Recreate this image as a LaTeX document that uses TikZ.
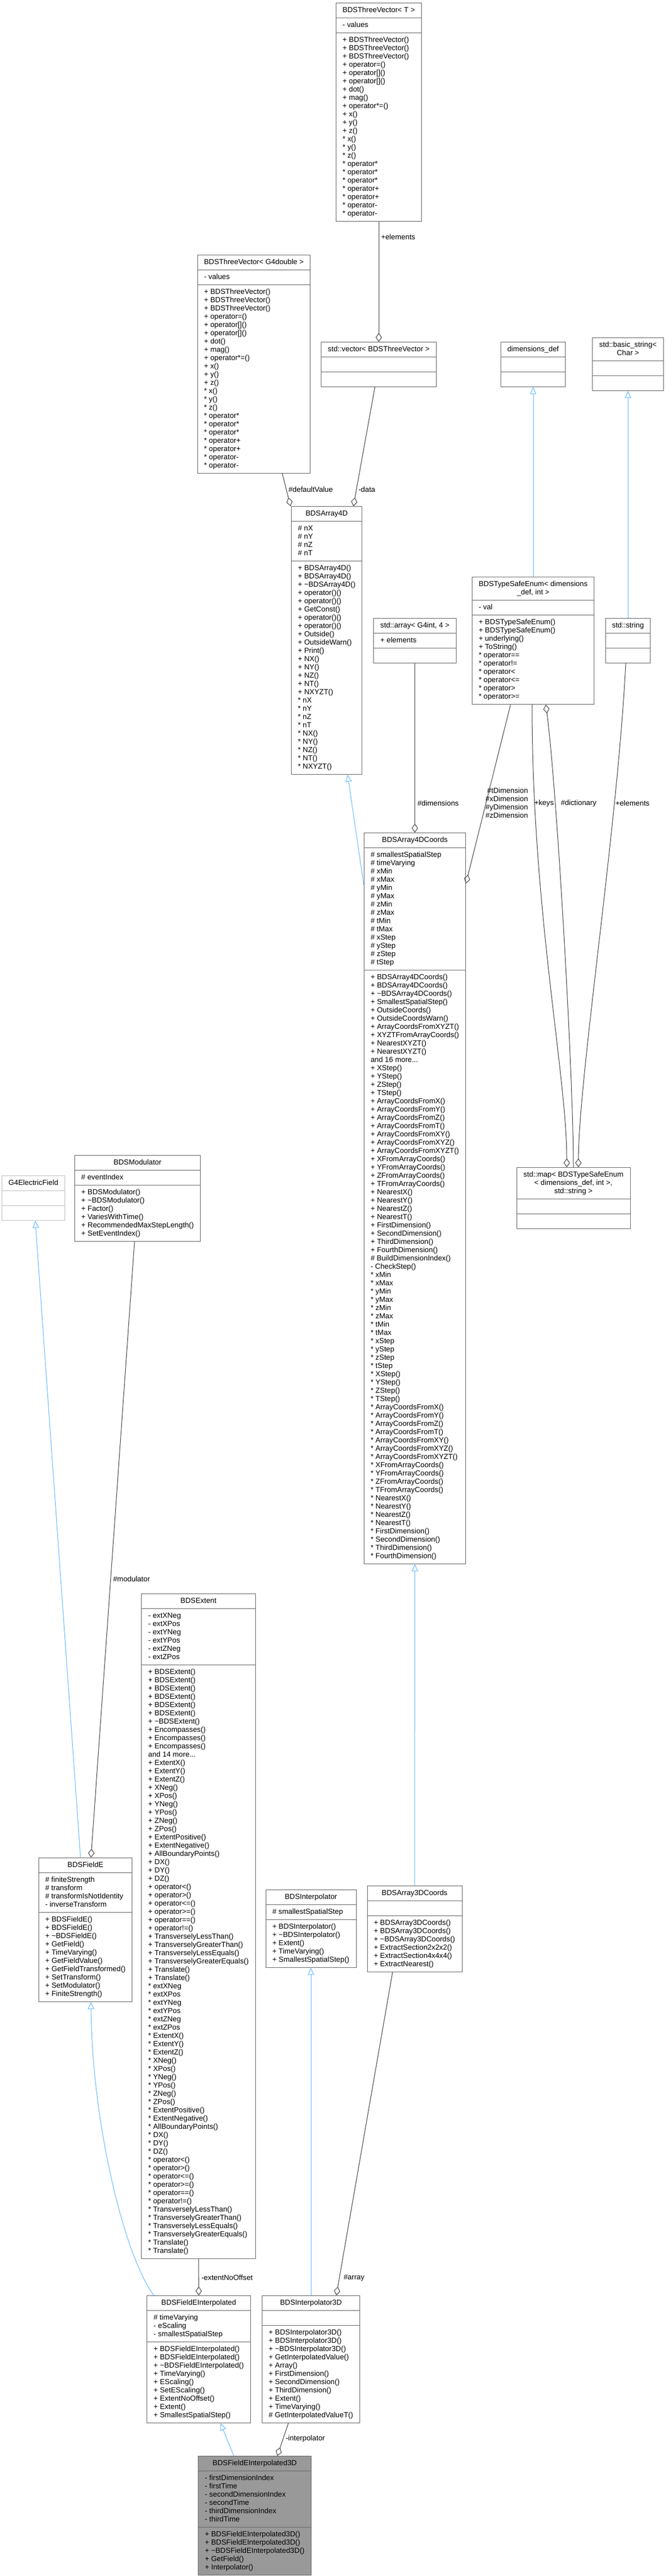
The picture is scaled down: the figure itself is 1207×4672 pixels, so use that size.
\documentclass[tikz,border=0pt]{standalone}
\usepackage{fontspec}
\setmainfont{Liberation Sans}
\usepackage{tikz}
\usetikzlibrary{shapes.multipart}
\usetikzlibrary{arrows.meta}
\definecolor{boxgray}{HTML}{666666}
\definecolor{edgegray}{HTML}{404040}
\definecolor{extgray}{HTML}{BFBFBF}
\definecolor{inhblue}{HTML}{63B8FF}
\definecolor{focusfill}{HTML}{999999}
\newcommand{\clshead}[1]{\begin{tabular}{@{}c@{}}#1\end{tabular}}
\newcommand{\members}[1]{\begin{tabular}{@{}l@{}}#1\end{tabular}}
\tikzset{
    cls/.style={rectangle split, rectangle split parts=3,
        rectangle split part align={center,left,left},
        draw=boxgray, line width=0.75pt, fill=white, anchor=north,
        inner xsep=9pt, inner ysep=4.125pt,
        font=\fontsize{10pt}{11.25pt}\selectfont},
    clsw/.style={minimum width=#1*0.75pt},
    aggr/.style={draw=edgegray, line width=0.75pt, -{Diamond[open,length=12pt,width=8.5pt]}},
    inh/.style={draw=inhblue, line width=0.75pt, -{Triangle[open,length=9.5pt,width=8.5pt]}},
    lbl/.style={inner sep=0pt, anchor=west, font=\fontsize{10pt}{11.25pt}\selectfont}
}

\begin{document}
\begin{tikzpicture}[x=0.75pt,y=-0.75pt]
    \path[use as bounding box, fill=white] (0,0) rectangle (1207,4672);

    \node[cls, clsw=152] (TVT) at (687,5) {\clshead{BDSThreeVector< T >}
        \nodepart{two}\members{- values}
        \nodepart{three}\members{+ BDSThreeVector()\\+ BDSThreeVector()\\+ BDSThreeVector()\\+ operator=()\\+ operator[]()\\+ operator[]()\\+ dot()\\+ mag()\\+ operator*=()\\+ x()\\+ y()\\+ z()\\{*} x()\\{*} y()\\{*} z()\\{*} operator*\\{*} operator*\\{*} operator*\\{*} operator+\\{*} operator+\\{*} operator-\\{*} operator-}};
    \node[cls, clsw=199] (TVG) at (460.5,462) {\clshead{BDSThreeVector< G4double >}
        \nodepart{two}\members{- values}
        \nodepart{three}\members{+ BDSThreeVector()\\+ BDSThreeVector()\\+ BDSThreeVector()\\+ operator=()\\+ operator[]()\\+ operator[]()\\+ dot()\\+ mag()\\+ operator*=()\\+ x()\\+ y()\\+ z()\\{*} x()\\{*} y()\\{*} z()\\{*} operator*\\{*} operator*\\{*} operator*\\{*} operator+\\{*} operator+\\{*} operator-\\{*} operator-}};
    \node[cls, clsw=206] (VEC) at (687,620) {\clshead{std::vector< BDSThreeVector >}
        \nodepart{two}\strut \nodepart{three}\strut};
    \node[cls, clsw=112] (DIMDEF) at (967,620) {\clshead{dimensions\_def}
        \nodepart{two}\strut \nodepart{three}\strut};
    \node[cls, clsw=124] (BSTR) at (1139,612) {\clshead{std::basic\_string<\\Char >}
        \nodepart{two}\strut \nodepart{three}\strut};

    \node[cls, clsw=125] (ARRAY4D) at (592.5,918) {\clshead{BDSArray4D}
        \nodepart{two}\members{\# nX\\\# nY\\\# nZ\\\# nT}
        \nodepart{three}\members{+ BDSArray4D()\\+ BDSArray4D()\\+ \textasciitilde BDSArray4D()\\+ operator()()\\+ operator()()\\+ GetConst()\\+ operator()()\\+ operator()()\\+ Outside()\\+ OutsideWarn()\\+ Print()\\+ NX()\\+ NY()\\+ NZ()\\+ NT()\\+ NXYZT()\\{*} nX\\{*} nY\\{*} nZ\\{*} nT\\{*} NX()\\{*} NY()\\{*} NZ()\\{*} NT()\\{*} NXYZT()}};
    \node[cls, clsw=147] (STDARRAY) at (752.5,1121) {\clshead{std::array< G4int, 4 >}
        \nodepart{two}\members{+ elements}
        \nodepart{three}\strut};
    \node[cls, clsw=216] (TSENUM) at (967,1046) {\clshead{BDSTypeSafeEnum< dimensions\\\_def, int >}
        \nodepart{two}\members{- val}
        \nodepart{three}\members{+ BDSTypeSafeEnum()\\+ BDSTypeSafeEnum()\\+ underlying()\\+ ToString()\\{*} operator==\\{*} operator!=\\{*} operator<\\{*} operator<=\\{*} operator>\\{*} operator>=}};
    \node[cls, clsw=80] (STDSTRING) at (1139,1121) {\clshead{std::string}
        \nodepart{two}\strut \nodepart{three}\strut};

    \node[cls, clsw=179] (COORDS4D) at (752.5,1510) {\clshead{BDSArray4DCoords}
        \nodepart{two}\members{\# smallestSpatialStep\\\# timeVarying\\\# xMin\\\# xMax\\\# yMin\\\# yMax\\\# zMin\\\# zMax\\\# tMin\\\# tMax\\\# xStep\\\# yStep\\\# zStep\\\# tStep}
        \nodepart{three}\members{+ BDSArray4DCoords()\\+ BDSArray4DCoords()\\+ \textasciitilde BDSArray4DCoords()\\+ SmallestSpatialStep()\\+ OutsideCoords()\\+ OutsideCoordsWarn()\\+ ArrayCoordsFromXYZT()\\+ XYZTFromArrayCoords()\\+ NearestXYZT()\\+ NearestXYZT()\\and 16 more...\\+ XStep()\\+ YStep()\\+ ZStep()\\+ TStep()\\+ ArrayCoordsFromX()\\+ ArrayCoordsFromY()\\+ ArrayCoordsFromZ()\\+ ArrayCoordsFromT()\\+ ArrayCoordsFromXY()\\+ ArrayCoordsFromXYZ()\\+ ArrayCoordsFromXYZT()\\+ XFromArrayCoords()\\+ YFromArrayCoords()\\+ ZFromArrayCoords()\\+ TFromArrayCoords()\\+ NearestX()\\+ NearestY()\\+ NearestZ()\\+ NearestT()\\+ FirstDimension()\\+ SecondDimension()\\+ ThirdDimension()\\+ FourthDimension()\\\# BuildDimensionIndex()\\- CheckStep()\\{*} xMin\\{*} xMax\\{*} yMin\\{*} yMax\\{*} zMin\\{*} zMax\\{*} tMin\\{*} tMax\\{*} xStep\\{*} yStep\\{*} zStep\\{*} tStep\\{*} XStep()\\{*} YStep()\\{*} ZStep()\\{*} TStep()\\{*} ArrayCoordsFromX()\\{*} ArrayCoordsFromY()\\{*} ArrayCoordsFromZ()\\{*} ArrayCoordsFromT()\\{*} ArrayCoordsFromXY()\\{*} ArrayCoordsFromXYZ()\\{*} ArrayCoordsFromXYZT()\\{*} XFromArrayCoords()\\{*} YFromArrayCoords()\\{*} ZFromArrayCoords()\\{*} TFromArrayCoords()\\{*} NearestX()\\{*} NearestY()\\{*} NearestZ()\\{*} NearestT()\\{*} FirstDimension()\\{*} SecondDimension()\\{*} ThirdDimension()\\{*} FourthDimension()}};
    \node[cls, clsw=206] (STDMAP) at (1040,2117) {\clshead{std::map< BDSTypeSafeEnum\\< dimensions\_def, int >,\\ std::string >}
        \nodepart{two}\strut \nodepart{three}\strut};
    \node[cls, clsw=111, draw=extgray] (G4EFIELD) at (60.5,2132) {\clshead{G4ElectricField}
        \nodepart{two}\strut \nodepart{three}\strut};
    \node[cls, clsw=221] (MODULATOR) at (249.5,2095) {\clshead{BDSModulator}
        \nodepart{two}\members{\# eventIndex}
        \nodepart{three}\members{+ BDSModulator()\\+ \textasciitilde BDSModulator()\\+ Factor()\\+ VariesWithTime()\\+ RecommendedMaxStepLength()\\+ SetEventIndex()}};

    \node[cls, clsw=200] (EXTENT) at (360,2890) {\clshead{BDSExtent}
        \nodepart{two}\members{- extXNeg\\- extXPos\\- extYNeg\\- extYPos\\- extZNeg\\- extZPos}
        \nodepart{three}\members{+ BDSExtent()\\+ BDSExtent()\\+ BDSExtent()\\+ BDSExtent()\\+ BDSExtent()\\+ BDSExtent()\\+ \textasciitilde BDSExtent()\\+ Encompasses()\\+ Encompasses()\\+ Encompasses()\\and 14 more...\\+ ExtentX()\\+ ExtentY()\\+ ExtentZ()\\+ XNeg()\\+ XPos()\\+ YNeg()\\+ YPos()\\+ ZNeg()\\+ ZPos()\\+ ExtentPositive()\\+ ExtentNegative()\\+ AllBoundaryPoints()\\+ DX()\\+ DY()\\+ DZ()\\+ operator<()\\+ operator>()\\+ operator<=()\\+ operator>=()\\+ operator==()\\+ operator!=()\\+ TransverselyLessThan()\\+ TransverselyGreaterThan()\\+ TransverselyLessEquals()\\+ TransverselyGreaterEquals()\\+ Translate()\\+ Translate()\\{*} extXNeg\\{*} extXPos\\{*} extYNeg\\{*} extYPos\\{*} extZNeg\\{*} extZPos\\{*} ExtentX()\\{*} ExtentY()\\{*} ExtentZ()\\{*} XNeg()\\{*} XPos()\\{*} YNeg()\\{*} YPos()\\{*} ZNeg()\\{*} ZPos()\\{*} ExtentPositive()\\{*} ExtentNegative()\\{*} AllBoundaryPoints()\\{*} DX()\\{*} DY()\\{*} DZ()\\{*} operator<()\\{*} operator>()\\{*} operator<=()\\{*} operator>=()\\{*} operator==()\\{*} operator!=()\\{*} TransverselyLessThan()\\{*} TransverselyGreaterThan()\\{*} TransverselyLessEquals()\\{*} TransverselyGreaterEquals()\\{*} Translate()\\{*} Translate()}};
    \node[cls, clsw=164] (FIELDE) at (155,3369) {\clshead{BDSFieldE}
        \nodepart{two}\members{\# finiteStrength\\\# transform\\\# transformIsNotIdentity\\- inverseTransform}
        \nodepart{three}\members{+ BDSFieldE()\\+ BDSFieldE()\\+ \textasciitilde BDSFieldE()\\+ GetField()\\+ TimeVarying()\\+ GetFieldValue()\\+ GetFieldTransformed()\\+ SetTransform()\\+ SetModulator()\\+ FiniteStrength()}};
    \node[cls, clsw=164] (INTERP) at (564,3427) {\clshead{BDSInterpolator}
        \nodepart{two}\members{\# smallestSpatialStep}
        \nodepart{three}\members{+ BDSInterpolator()\\+ \textasciitilde BDSInterpolator()\\+ Extent()\\+ TimeVarying()\\+ SmallestSpatialStep()}};
    \node[cls, clsw=172] (COORDS3D) at (752,3420) {\clshead{BDSArray3DCoords}
        \nodepart{two}\strut
        \nodepart{three}\members{+ BDSArray3DCoords()\\+ BDSArray3DCoords()\\+ \textasciitilde BDSArray3DCoords()\\+ ExtractSection2x2x2()\\+ ExtractSection4x4x4()\\+ ExtractNearest()}};

    \node[cls, clsw=183] (FIELDEI) at (360.5,4163) {\clshead{BDSFieldEInterpolated}
        \nodepart{two}\members{\# timeVarying\\- eScaling\\- smallestSpatialStep}
        \nodepart{three}\members{+ BDSFieldEInterpolated()\\+ BDSFieldEInterpolated()\\+ \textasciitilde BDSFieldEInterpolated()\\+ TimeVarying()\\+ EScaling()\\+ SetEScaling()\\+ ExtentNoOffset()\\+ Extent()\\+ SmallestSpatialStep()}};
    \node[cls, clsw=170] (INTERP3D) at (564,4163) {\clshead{BDSInterpolator3D}
        \nodepart{two}\strut
        \nodepart{three}\members{+ BDSInterpolator3D()\\+ BDSInterpolator3D()\\+ \textasciitilde BDSInterpolator3D()\\+ GetInterpolatedValue()\\+ Array()\\+ FirstDimension()\\+ SecondDimension()\\+ ThirdDimension()\\+ Extent()\\+ TimeVarying()\\\# GetInterpolatedValueT()}};
    \node[cls, clsw=200, fill=focusfill] (FIELDEI3D) at (462,4454) {\clshead{BDSFieldEInterpolated3D}
        \nodepart{two}\members{- firstDimensionIndex\\- firstTime\\- secondDimensionIndex\\- secondTime\\- thirdDimensionIndex\\- thirdTime}
        \nodepart{three}\members{+ BDSFieldEInterpolated3D()\\+ BDSFieldEInterpolated3D()\\+ \textasciitilde BDSFieldEInterpolated3D()\\+ GetField()\\+ Interpolator()}};

    \draw[aggr] (TVT.south) -- (VEC.north);
    \draw[aggr] ([shift={(51.5,0)}]TVG.south) -- ([shift={(-65.5,0)}]ARRAY4D.north);
    \draw[aggr] ([shift={(-7,0)}]VEC.south) -- ([shift={(48.5,0)}]ARRAY4D.north);
    \draw[inh] (TSENUM.north) -- (DIMDEF.south);
    \draw[inh] (STDSTRING.north) -- (BSTR.south);
    \draw[inh] ([shift={(0,95)}]COORDS4D.north west) -- ([shift={(38,0)}]ARRAY4D.south);
    \draw[aggr] (STDARRAY.south) -- (COORDS4D.north);
    \draw[aggr] ([shift={(-41,0)}]TSENUM.south) -- ([shift={(0,92)}]COORDS4D.north east);
    \draw[aggr] ([shift={(-2,0)}]TSENUM.south) .. controls (965,1650) and (1028,1950) .. ([shift={(-12,0)}]STDMAP.north);
    \draw[aggr] (STDMAP.north) .. controls (1040,1950) and (1010,1430) .. ([shift={(23,0)}]TSENUM.south);
    \draw[aggr] ([shift={(-4,0)}]STDSTRING.south) .. controls (1120,1500) and (1050,1950) .. ([shift={(9,0)}]STDMAP.north);
    \draw[inh] ([shift={(-9,0)}]FIELDE.north) -- ([shift={(3.5,0)}]G4EFIELD.south);
    \draw[aggr] ([shift={(-5.5,0)}]MODULATOR.south) -- ([shift={(10,0)}]FIELDE.north);
    \draw[inh] (COORDS3D.north) -- (COORDS4D.south);
    \draw[inh] ([shift={(-81.5,0)}]FIELDEI.north) .. controls (225,4090) and (167,3850) .. ([shift={(10,0)}]FIELDE.south);
    \draw[aggr] (EXTENT.south) -- (FIELDEI.north);
    \draw[inh] (INTERP3D.north) -- (INTERP.south);
    \draw[aggr] ([shift={(-40,0)}]COORDS3D.south) -- ([shift={(46,0)}]INTERP3D.north);
    \draw[inh] ([shift={(-38,0)}]FIELDEI3D.north) -- ([shift={(39.5,0)}]FIELDEI.south);
    \draw[aggr] ([shift={(-41,0)}]INTERP3D.south) -- ([shift={(41,0)}]FIELDEI3D.north);

    \node[lbl] (LELEMVEC) at (691,430) {+elements};
    \node[lbl] (LDEFAULT) at (523,888) {\#defaultValue};
    \node[lbl] (LDATA) at (650,888) {-data};
    \node[lbl] (LDIMS) at (757,1457) {\#dimensions};
    \node[lbl, anchor=east, align=right] (LXYZT) at (958,1456) {\#tDimension\\\#xDimension\\\#yDimension\\\#zDimension};
    \node[lbl] (LKEYS) at (969,1457) {+keys};
    \node[lbl] (LDICT) at (1017,1457) {\#dictionary};
    \node[lbl] (LELEMMAP) at (1116,1457) {+elements};
    \node[lbl] (LMOD) at (205,2864) {\#modulator};
    \node[lbl] (LEXTENT) at (365,4131) {-extentNoOffset};
    \node[lbl] (LARRAY) at (623,4131) {\#array};
    \node[lbl] (LINTERP) at (518,4423) {-interpolator};
\end{tikzpicture}
\end{document}
